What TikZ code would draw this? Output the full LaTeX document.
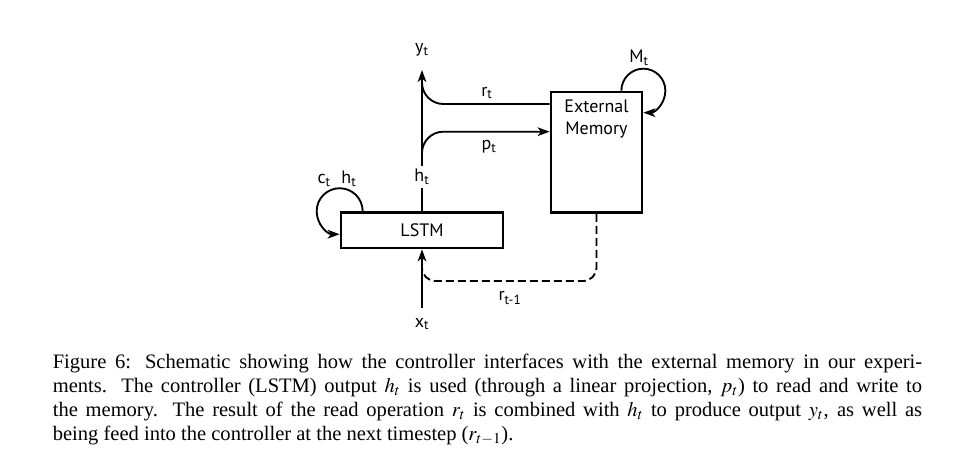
\documentclass[tikz,border=0pt]{standalone}
\usepackage{mathptmx}
\usepackage{fontspec}
\setmainfont{Liberation Serif}
\setsansfont{PT Sans}
\usetikzlibrary{arrows.meta,positioning}

\begin{document}
\begin{tikzpicture}[
      x=0.75pt,y=0.75pt,
      block/.style={
        draw=black,
        line width=2pt,
        inner sep=0pt,
        font=\sffamily\fontsize{13.5}{16.5}\selectfont
      },
      lbl/.style={inner sep=0pt,font=\sffamily\fontsize{13.5}{16.5}\selectfont},
      link/.style={line width=1.4pt,draw=black},
      arr/.style={link,-{Stealth[length=9pt,width=6.5pt,inset=2.5pt]}},
      readback/.style={link,dash pattern=on 6pt off 3pt}
    ]
    \useasboundingbox (0,0) rectangle (975,-474);
    \node[block,minimum width=121.5pt,minimum height=26.6pt] (lstm) at (422,-230.3) {LSTM};
    \node[block,minimum width=68.3pt,minimum height=90.4pt] (mem) at (596.5,-152.3) {};
    \node[lbl,align=center,below=7pt of mem.north] (memtext) {External\\Memory};
    \node[lbl,inner sep=2.5pt] (ht) at (422,-177) {h\textsubscript{t}};
    \coordinate (ytip) at (422,-70);
    \coordinate (rjoin) at (422,-80);
    \node[lbl,above=10pt of ytip] (yt) {y\textsubscript{t}};
    \node[lbl,inner ysep=7pt] (xt) at (422,-324) {x\textsubscript{t}};
    \node[lbl] (rt) at (487,-93) {r\textsubscript{t}};
    \node[lbl] (pt) at (489,-147) {p\textsubscript{t}};
    \node[lbl] (rprev) at (510,-298) {r\textsubscript{t-1}};
    \node[lbl] (mt) at (639,-58) {M\textsubscript{t}};
    \node[lbl] (ctht) at (337,-179) {c\textsubscript{t}\hspace{8pt}h\textsubscript{t}};
    \draw[link] (lstm) -- (ht);
    \draw[arr] (ht) -- (ytip);
    \draw[arr,rounded corners=16pt] (ht.north) |- (mem.west |- 0,-131.7);
    \draw[link,rounded corners=16pt] (mem.west |- 0,-104) -| (rjoin);
    \draw[arr] (xt) -- (lstm);
    \draw[readback,rounded corners=10pt] (mem.south) |- (lstm.south |- 0,-281) -- (lstm.south |- 0,-262);
    \draw[arr] (lstm.north west) ++(23,0) arc[start angle=0,end angle=270,radius=23];
    \draw[arr] (mem.north east) ++(-22,0) arc[start angle=180,end angle=-90,radius=22];
    \node[anchor=north,text width=652pt,align=justify,inner sep=0pt,
      font=\fontsize{15.4}{18}\selectfont] (caption) at (487.5,-354) {Figure 6: Schematic showing how the controller interfaces with the external memory in our experi-\linebreak
      ments. The controller (LSTM) output $h_t$ is used (through a linear projection, $p_t$) to read and write to\linebreak
      the memory. The result of the read operation $r_t$ is combined with $h_t$ to produce output $y_t$, as well as\linebreak
      being feed into the controller at the next timestep ($r_{t-1}$).};
  \end{tikzpicture}
\end{document}
